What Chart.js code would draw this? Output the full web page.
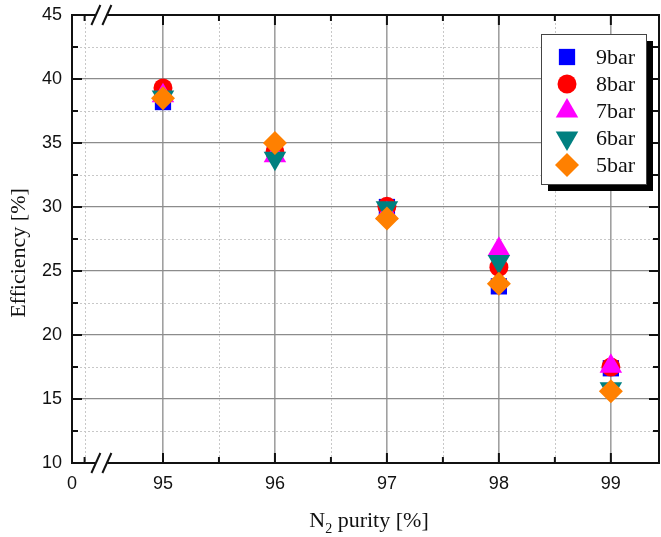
<!DOCTYPE html>
<html><head><meta charset="utf-8">
<script src="https://cdn.jsdelivr.net/npm/chart.js@4.4.0/dist/chart.umd.min.js"></script>
<style>html,body{margin:0;padding:0;background:#fff}#wrap{width:661px;height:537px}</style>
</head><body><div id="wrap"><canvas id="c" width="661" height="537"></canvas></div>
<script>
// ---- data ----
const purity = [95, 96, 97, 98, 99];
const eff9bar = [38.2, 34.2, 30.0, 23.8, 17.4];
const eff8bar = [39.3, 34.3, 30.05, 25.3, 17.5];
const eff7bar = [38.7, 34.0, 29.5, 26.7, 17.55];
const eff6bar = [38.6, 33.8, 29.95, 25.75, 15.8];
const eff5bar = [38.5, 35.0, 29.1, 24.0, 15.6];
const seriesNames = ['9bar', '8bar', '7bar', '6bar', '5bar'];
const xMajorTicks = [95, 96, 97, 98, 99];
const xMinorTicks = [94.3, 95.5, 96.5, 97.5, 98.5];
const xBreakLabel = '0';
const yMajorTicks = [10, 15, 20, 25, 30, 35, 40, 45];
const yMinorTicks = [12.5, 17.5, 22.5, 27.5, 32.5, 37.5, 42.5];
const xTitleMain = 'N', xTitleSub = '2', xTitleRest = ' purity [%]';
const yTitle = 'Efficiency [%]';

const X_MIN = 94.1875, X_MAX = 99.43, Y_MIN = 10, Y_MAX = 45;

const styles = [
  {color: '#0000ff', pointStyle: 'rect', radius: 11.5, rotation: 0},
  {color: '#ff0000', pointStyle: 'circle', radius: 9.5, rotation: 0},
  {color: '#ff00ff', pointStyle: 'triangle', radius: 13, rotation: 0},
  {color: '#008080', pointStyle: 'triangle', radius: 13, rotation: 180},
  {color: '#ff8000', pointStyle: 'rectRot', radius: 12, rotation: 0}
];
const seriesValues = [eff9bar, eff8bar, eff7bar, eff6bar, eff5bar];

const datasets = seriesNames.map((name, i) => ({
  label: name,
  data: purity.map((p, j) => ({x: p, y: seriesValues[i][j]})),
  pointStyle: styles[i].pointStyle,
  pointRadius: styles[i].radius,
  pointRotation: styles[i].rotation,
  backgroundColor: styles[i].color,
  borderColor: styles[i].color,
  pointBorderWidth: 0,
  order: 4 - i
}));

function drawMarker(ctx, st, x, y) {
  const r = st.radius;
  let rad = st.rotation * Math.PI / 180;
  ctx.save();
  ctx.fillStyle = st.color;
  ctx.beginPath();
  if (st.pointStyle === 'circle') {
    ctx.arc(x, y, r, 0, Math.PI * 2);
  } else if (st.pointStyle === 'triangle') {
    ctx.moveTo(x + Math.sin(rad) * r, y - Math.cos(rad) * r);
    rad += 2 * Math.PI / 3;
    ctx.lineTo(x + Math.sin(rad) * r, y - Math.cos(rad) * r);
    rad += 2 * Math.PI / 3;
    ctx.lineTo(x + Math.sin(rad) * r, y - Math.cos(rad) * r);
    ctx.closePath();
  } else if (st.pointStyle === 'rect') {
    const s = r * Math.SQRT1_2;
    ctx.rect(x - s, y - s, 2 * s, 2 * s);
  } else if (st.pointStyle === 'rectRot') {
    ctx.moveTo(x, y - r); ctx.lineTo(x + r, y); ctx.lineTo(x, y + r); ctx.lineTo(x - r, y);
    ctx.closePath();
  }
  ctx.fill();
  ctx.restore();
}

const minorGrid = {
  id: 'minorGrid',
  beforeDatasetsDraw(chart) {
    const {ctx, chartArea: a, scales: {x, y}} = chart;
    ctx.save();
    ctx.strokeStyle = '#c8c8c8';
    ctx.lineWidth = 1;
    ctx.setLineDash([2, 2]);
    xMinorTicks.forEach(v => {
      const px = Math.round(x.getPixelForValue(v)) + 0.5;
      ctx.beginPath(); ctx.moveTo(px, a.top); ctx.lineTo(px, a.bottom); ctx.stroke();
    });
    yMinorTicks.forEach(v => {
      const py = Math.round(y.getPixelForValue(v)) + 0.5;
      ctx.beginPath(); ctx.moveTo(a.left, py); ctx.lineTo(a.right, py); ctx.stroke();
    });
    ctx.restore();
  }
};

const frame = {
  id: 'frame',
  afterDatasetsDraw(chart) {
    const {ctx, chartArea: a, scales: {x, y}} = chart;
    ctx.save();
    ctx.strokeStyle = '#111';
    ctx.lineWidth = 2;
    ctx.setLineDash([]);
    ctx.strokeRect(a.left, a.top, a.right - a.left, a.bottom - a.top);
    const tk = (x1, y1, x2, y2) => { ctx.beginPath(); ctx.moveTo(x1, y1); ctx.lineTo(x2, y2); ctx.stroke(); };
    xMajorTicks.forEach(v => {
      const px = x.getPixelForValue(v);
      tk(px, a.bottom, px, a.bottom - 10); tk(px, a.top, px, a.top + 10);
    });
    xMinorTicks.forEach(v => {
      const px = x.getPixelForValue(v);
      tk(px, a.bottom, px, a.bottom - 6); tk(px, a.top, px, a.top + 6);
    });
    yMajorTicks.forEach(v => {
      const py = y.getPixelForValue(v);
      tk(a.left, py, a.left + 10, py); tk(a.right, py, a.right - 10, py);
    });
    yMinorTicks.forEach(v => {
      const py = y.getPixelForValue(v);
      tk(a.left, py, a.left + 6, py); tk(a.right, py, a.right - 6, py);
    });
    // axis breaks
    const bx = x.getPixelForValue(94.45);
    [a.bottom, a.top].forEach(by => {
      ctx.fillStyle = '#fff';
      ctx.fillRect(bx - 6, by - 3, 12, 6);
      ctx.strokeStyle = '#111';
      ctx.lineWidth = 2;
      tk(bx - 10, by + 10, bx - 1, by - 10);
      tk(bx + 1, by + 10, bx + 10, by - 10);
    });
    ctx.restore();
  },
  afterDraw(chart) {
    const {ctx} = chart;
    ctx.save();
    const mainFont = '22px "Liberation Serif", "Times New Roman", serif';
    const subFont = '14px "Liberation Serif", "Times New Roman", serif';
    // y title
    ctx.save();
    ctx.translate(19, 253);
    ctx.rotate(-Math.PI / 2);
    ctx.font = mainFont;
    ctx.fillStyle = '#111';
    ctx.textAlign = 'center';
    ctx.textBaseline = 'middle';
    ctx.fillText(yTitle, 0, 0);
    ctx.restore();
    // x title with subscript
    ctx.font = mainFont;
    const wN = ctx.measureText(xTitleMain).width;
    const wR = ctx.measureText(xTitleRest).width;
    ctx.font = subFont;
    const wS = ctx.measureText(xTitleSub).width;
    const total = wN + wS + wR;
    let tx = 369 - total / 2;
    const base = 527;
    ctx.fillStyle = '#111';
    ctx.textBaseline = 'alphabetic';
    ctx.textAlign = 'left';
    ctx.font = mainFont; ctx.fillText(xTitleMain, tx, base); tx += wN;
    ctx.font = subFont; ctx.fillText(xTitleSub, tx, base + 6); tx += wS;
    ctx.font = mainFont; ctx.fillText(xTitleRest, tx, base);

    // legend
    const L = 541, T = 34, R = 646, B = 184;
    ctx.fillStyle = '#000';
    ctx.fillRect(L + 7, T + 7, R - L, B - T);
    ctx.fillStyle = '#fff';
    ctx.fillRect(L, T, R - L, B - T);
    ctx.strokeStyle = '#444';
    ctx.lineWidth = 1;
    ctx.strokeRect(L + 0.5, T + 0.5, R - L, B - T);
    ctx.font = '22px "Liberation Serif", "Times New Roman", serif';
    ctx.textBaseline = 'middle';
    ctx.fillStyle = '#111';
    seriesNames.forEach((n, i) => {
      const cy = 57 + i * 27;
      drawMarker(ctx, styles[i], 567, cy);
      ctx.fillText(n, 596, cy + 1);
    });
    ctx.restore();
  }
};

new Chart(document.getElementById('c'), {
  type: 'scatter',
  data: {datasets},
  options: {
    responsive: false,
    animation: false,
    devicePixelRatio: 1,
    layout: {autoPadding: false, padding: {left: 0, right: 2, top: 15, bottom: 0}},
    plugins: {legend: {display: false}, tooltip: {enabled: false}},
    scales: {
      x: {
        type: 'linear', min: X_MIN, max: X_MAX,
        afterBuildTicks: s => { s.ticks = [{value: X_MIN}].concat(xMajorTicks.map(v => ({value: v}))); },
        afterFit: s => { s.height = 74; s.paddingLeft = 0; s.paddingRight = 0; },
        ticks: {
          autoSkip: false, maxRotation: 0, padding: 10,
          color: '#111',
          font: {family: '"Liberation Sans", Arial, sans-serif', size: 18},
          callback: v => (v === X_MIN ? xBreakLabel : String(v))
        },
        grid: {
          drawTicks: false,
          color: c => (c.tick && c.tick.value === X_MIN ? 'rgba(0,0,0,0)' : '#a0a0a0'),
          lineWidth: 1.6
        },
        border: {display: false}
      },
      y: {
        type: 'linear', min: Y_MIN, max: Y_MAX,
        afterBuildTicks: s => { s.ticks = yMajorTicks.map(v => ({value: v})); },
        afterFit: s => { s.width = 72; s.paddingTop = 0; s.paddingBottom = 0; },
        ticks: {
          padding: 10, color: '#111',
          font: {family: '"Liberation Sans", Arial, sans-serif', size: 18}
        },
        grid: {
          drawTicks: false,
          color: c => (c.tick && (c.tick.value === Y_MIN || c.tick.value === Y_MAX) ? 'rgba(0,0,0,0)' : '#8c8c8c'),
          lineWidth: 1.3
        },
        border: {display: false}
      }
    }
  },
  plugins: [minorGrid, frame]
});
</script>
</body></html>
